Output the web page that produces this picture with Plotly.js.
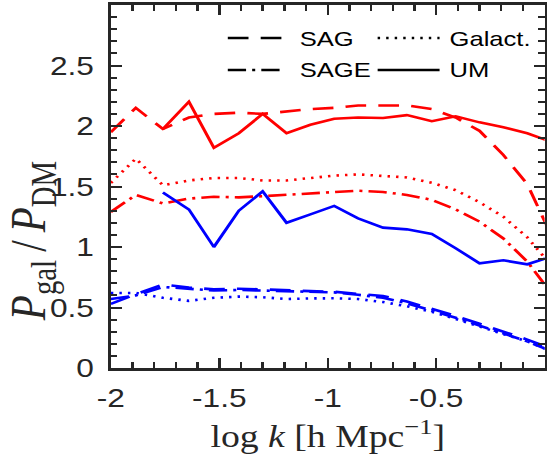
<!DOCTYPE html>
<html>
<head>
<meta charset="utf-8">
<script src="https://cdn.plot.ly/plotly-3.0.1.min.js"></script>
<style>
  html, body { margin: 0; padding: 0; background: #fff; overflow: hidden; }
  #wrap { width: 547px; height: 459px; overflow: hidden; }
  /* the figure is laid out narrower and widened horizontally */
  #chart { width: 449px; height: 459px; transform: scaleX(1.2183); transform-origin: 0 0; }
</style>
</head>
<body>
<div id="wrap"><div id="chart"></div></div>
<script>
// log k bins [h/Mpc]
const logK = [-2.0, -1.885, -1.76, -1.64, -1.525, -1.41, -1.30, -1.19, -1.08, -0.97,
              -0.86, -0.745, -0.635, -0.52, -0.41, -0.30, -0.19, -0.08, 0.03];

// P_gal / P_DM, red sample
const redSAG    = [1.95, 2.15, 1.975, 2.07, 2.10, 2.11, 2.10, 2.12, 2.14, 2.15,
                   2.17, 2.17, 2.17, 2.14, 2.07, 1.96, 1.76, 1.52, 1.10];
const redSAGE   = [1.29, 1.43, 1.36, 1.40, 1.415, 1.41, 1.42, 1.43, 1.44, 1.45,
                   1.465, 1.455, 1.43, 1.39, 1.31, 1.21, 1.07, 0.88, 0.62];
const redGalact = [1.53, 1.73, 1.51, 1.55, 1.57, 1.57, 1.55, 1.55, 1.57, 1.59,
                   1.60, 1.59, 1.575, 1.53, 1.47, 1.37, 1.25, 1.08, 0.85];
const redUM     = [null, null, 1.975, 2.20, 1.82, 1.94, 2.10, 1.94, 2.01, 2.06,
                   2.07, 2.066, 2.09, 2.04, 2.08, 2.03, 1.99, 1.94, 1.87];

// P_gal / P_DM, blue sample
const blueSAG    = [0.53, 0.61, 0.69, 0.665, 0.65, 0.655, 0.65, 0.64, 0.635, 0.63,
                    0.615, 0.595, 0.55, 0.49, 0.43, 0.365, 0.30, 0.235, 0.16];
const blueSAGE   = [0.57, 0.60, 0.67, 0.655, 0.64, 0.645, 0.64, 0.635, 0.63, 0.625,
                    0.605, 0.58, 0.535, 0.475, 0.415, 0.35, 0.285, 0.22, 0.14];
const blueGalact = [0.62, 0.62, 0.58, 0.555, 0.58, 0.59, 0.585, 0.57, 0.575, 0.576,
                    0.57, 0.545, 0.51, 0.465, 0.405, 0.34, 0.28, 0.22, 0.14];
const blueUM     = [null, null, 1.45, 1.31, 1.00, 1.30, 1.46, 1.20, 1.27, 1.34,
                    1.237, 1.16, 1.146, 1.107, 0.99, 0.865, 0.89, 0.857, 0.92];

const xTickVals = [-2, -1.5, -1, -0.5];
const xTickText = ['-2', '-1.5', '-1', '-0.5'];
const yTickVals = [0, 0.5, 1, 1.5, 2, 2.5];
const yTickText = ['0', '0.5', '1', '1.5', '2', '2.5'];

const legendNames = ['SAG', 'SAGE', 'Galact.', 'UM'];

const RED = '#ff0000', BLUE = '#0000ff', AX = '#262626';
const DASH = '17px,10px', DASHDOT = '15px,5px,2.5px,5px', DOT = '2px,5px';
const LW = 2.6;

function line(y, color, dash) {
  return { x: logK, y: y, type: 'scatter', mode: 'lines', showlegend: false,
           hoverinfo: 'skip', line: { color: color, width: LW, dash: dash } };
}

const traces = [
  line(redSAG, RED, DASH), line(redSAGE, RED, DASHDOT),
  line(redGalact, RED, DOT), line(redUM, RED, 'solid'),
  line(blueSAG, BLUE, DASH), line(blueSAGE, BLUE, DASHDOT),
  line(blueGalact, BLUE, DOT), line(blueUM, BLUE, 'solid')
];

// legend: two columns drawn in paper coordinates
const legRows = [0.909, 0.821];
const legCols = [{ x0: 0.2696, x1: 0.3941, tx: 0.4286 }, { x0: 0.6151, x1: 0.7579, tx: 0.7762 }];
const legDash = [DASH, DASHDOT, DOT, 'solid'];
const shapes = [], annotations = [];
legendNames.forEach((name, i) => {
  const col = legCols[Math.floor(i / 2)], row = legRows[i % 2];
  shapes.push({ type: 'line', xref: 'paper', yref: 'paper', x0: col.x0, x1: col.x1,
                y0: row, y1: row, line: { color: '#000', width: 2.4, dash: legDash[i] } });
  annotations.push({ xref: 'paper', yref: 'paper', x: col.tx, y: row, text: name,
                     showarrow: false, xanchor: 'left', yanchor: 'middle',
                     font: { family: 'Liberation Sans, Arial, sans-serif', size: 21, color: '#000' } });
});

// y-axis label
annotations.push({ xref: 'paper', yref: 'paper', x: -0.182, y: 0.35, textangle: -90,
                   xanchor: 'center', yanchor: 'middle', showarrow: false,
                   text: '<i>P</i><sub>gal</sub>\u2009/\u2009<i>P</i><sub>DM</sub>',
                   font: { family: 'Liberation Serif, Times New Roman, serif', size: 41, color: AX } });

const tickFont = { family: 'Liberation Sans, Arial, sans-serif', size: 26, color: AX };

const layout = {
  width: 449, height: 459,
  margin: { l: 91, r: 1.5, t: 5, b: 91, autoexpand: false },
  paper_bgcolor: '#fff', plot_bgcolor: '#fff',
  showlegend: false,
  xaxis: {
    range: [-2, 0], tickmode: 'array', tickvals: xTickVals, ticktext: xTickText,
    ticks: 'inside', ticklen: 10, tickwidth: 2, tickcolor: AX,
    showline: true, linecolor: AX, linewidth: 2.7, mirror: 'ticks',
    showgrid: false, zeroline: false, automargin: false,
    tickfont: tickFont, ticklabelstandoff: 5,
    minor: { tickmode: 'linear', tick0: 0, dtick: 0.1, ticks: 'inside', ticklen: 6, tickwidth: 2, tickcolor: AX, showgrid: false },
    title: { text: 'log <i>k</i> [h Mpc<sup>−1</sup>]', standoff: 14,
             font: { family: 'Liberation Serif, Times New Roman, serif', size: 31, color: AX } }
  },
  yaxis: {
    range: [0, 3], tickmode: 'array', tickvals: yTickVals, ticktext: yTickText,
    ticks: 'inside', ticklen: 9, tickwidth: 2, tickcolor: AX,
    showline: true, linecolor: AX, linewidth: 2.7, mirror: 'ticks',
    showgrid: false, zeroline: false, automargin: false,
    tickfont: tickFont, ticklabelstandoff: 6,
    minor: { tickmode: 'linear', tick0: 0, dtick: 0.1, ticks: 'inside', ticklen: 5, tickwidth: 2, tickcolor: AX, showgrid: false }
  },
  shapes: shapes,
  annotations: annotations
};

Plotly.newPlot('chart', traces, layout, { displayModeBar: false, staticPlot: true });
</script>
</body>
</html>
